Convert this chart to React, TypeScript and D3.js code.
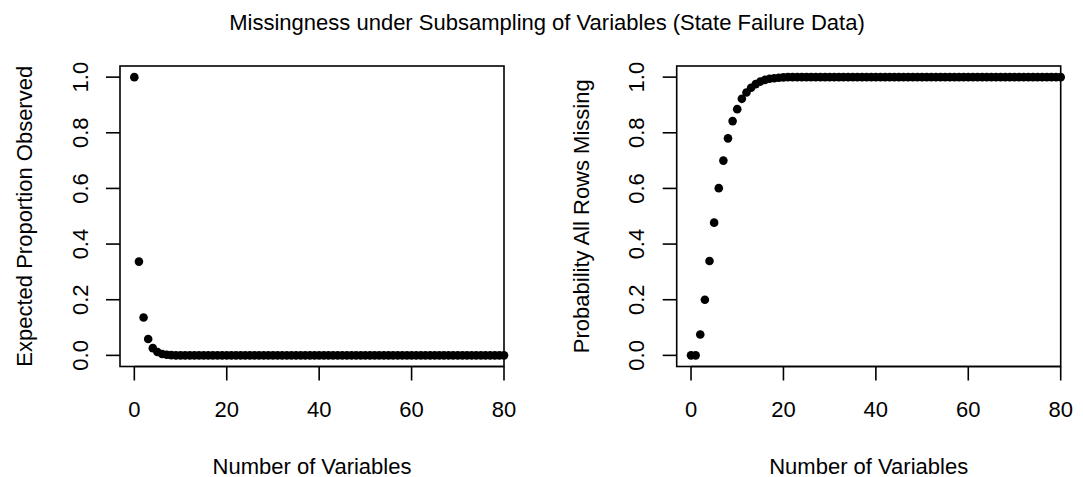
import React from "react";
import * as d3 from "d3";

// number of variables subsampled (0..80)
const nVars: number[] = d3.range(0, 81);

// left panel: expected proportion observed
const propObserved: number[] = [
  1.0, 0.337, 0.136, 0.059, 0.026, 0.012, 0.005, 0.002, 0.001, 0,
  0, 0, 0, 0, 0, 0, 0, 0, 0, 0,
  0, 0, 0, 0, 0, 0, 0, 0, 0, 0,
  0, 0, 0, 0, 0, 0, 0, 0, 0, 0,
  0, 0, 0, 0, 0, 0, 0, 0, 0, 0,
  0, 0, 0, 0, 0, 0, 0, 0, 0, 0,
  0, 0, 0, 0, 0, 0, 0, 0, 0, 0,
  0, 0, 0, 0, 0, 0, 0, 0, 0, 0,
  0,
];

// right panel: probability all rows missing
const probAllMissing: number[] = [
  0, 0, 0.075, 0.2, 0.339, 0.477, 0.601, 0.7, 0.78, 0.842,
  0.885, 0.922, 0.945, 0.962, 0.975, 0.984, 0.99, 0.994, 0.996, 0.998,
  0.999, 1, 1, 1, 1, 1, 1, 1, 1, 1,
  1, 1, 1, 1, 1, 1, 1, 1, 1, 1,
  1, 1, 1, 1, 1, 1, 1, 1, 1, 1,
  1, 1, 1, 1, 1, 1, 1, 1, 1, 1,
  1, 1, 1, 1, 1, 1, 1, 1, 1, 1,
  1, 1, 1, 1, 1, 1, 1, 1, 1, 1,
  1,
];

const xTicks = [0, 20, 40, 60, 80];
const yTicks = [0, 0.2, 0.4, 0.6, 0.8, 1.0];

const title = "Missingness under Subsampling of Variables (State Failure Data)";
const xLabel = "Number of Variables";
const yLabels = ["Expected Proportion Observed", "Probability All Rows Missing"];

const width = 1083;
const height = 477;
const font = "'Liberation Sans', Arial, Helvetica, sans-serif";
const fs = 22;

function Panel({ left, values, ylab }: { left: number; values: number[]; ylab: string }) {
  const top = 66;
  const bottom = 366.5;
  const right = left + 384;
  const x = d3.scaleLinear().domain([-3.1, 80]).range([left, right]);
  const y = d3.scaleLinear().domain([-0.04, 1.04]).range([bottom, top]);
  const tick = 14;

  return (
    <g>
      {values.map((v, i) => (
        <circle key={i} cx={x(nVars[i])} cy={y(v)} r={4.3} fill="#000" />
      ))}
      <rect x={left} y={top} width={right - left} height={bottom - top} fill="none" stroke="#000" strokeWidth={1.6} />
      {/* x axis */}
      <line x1={x(0)} x2={x(80)} y1={bottom} y2={bottom} stroke="#000" strokeWidth={1.6} />
      {xTicks.map((t) => (
        <g key={t}>
          <line x1={x(t)} x2={x(t)} y1={bottom} y2={bottom + tick} stroke="#000" strokeWidth={1.6} />
          <text x={x(t)} y={417} textAnchor="middle" fontSize={fs} fontFamily={font}>
            {t}
          </text>
        </g>
      ))}
      {/* y axis */}
      {yTicks.map((t) => (
        <g key={t}>
          <line x1={left - tick} x2={left} y1={y(t)} y2={y(t)} stroke="#000" strokeWidth={1.6} />
          <text
            transform={`translate(${left - 32.5},${y(t)}) rotate(-90)`}
            textAnchor="middle"
            fontSize={fs}
            fontFamily={font}
          >
            {t.toFixed(1)}
          </text>
        </g>
      ))}
      <text x={(left + right) / 2} y={473.5} textAnchor="middle" fontSize={fs} fontFamily={font}>
        {xLabel}
      </text>
      <text
        transform={`translate(${left - 88},${(top + bottom) / 2}) rotate(-90)`}
        textAnchor="middle"
        fontSize={fs}
        fontFamily={font}
      >
        {ylab}
      </text>
    </g>
  );
}

export default function App() {
  return (
    <svg
      width={width}
      height={height}
      style={{ position: "absolute", left: 0, top: 0, background: "#fff" }}
    >
      <rect width={width} height={height} fill="#fff" />
      <text x={547} y={30} textAnchor="middle" fontSize={fs} fontFamily={font}>
        {title}
      </text>
      <Panel left={120} values={propObserved} ylab={yLabels[0]} />
      <Panel left={676.7} values={probAllMissing} ylab={yLabels[1]} />
    </svg>
  );
}
